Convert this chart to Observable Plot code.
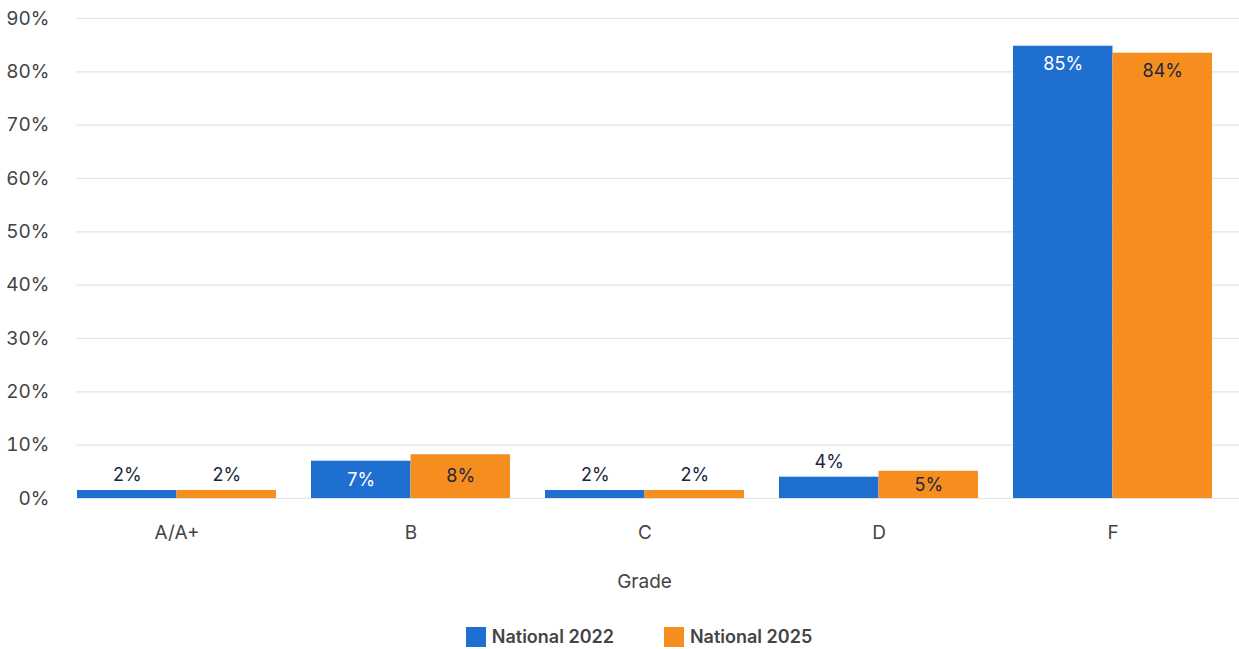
<!DOCTYPE html>
<html>
<head>
<meta charset="utf-8">
<script src="https://cdn.jsdelivr.net/npm/d3@7"></script>
<script src="https://cdn.jsdelivr.net/npm/@observablehq/plot@0.6"></script>
<style>
  html, body { margin: 0; padding: 0; background: #fff; }
  body { width: 1239px; height: 649px; overflow: hidden; font-family: Inter, "Noto Sans", sans-serif; }
  #legend { display: flex; justify-content: center; gap: 50px; margin-top: 16px; padding-left: 39px; }
  .item { display: flex; align-items: center; font-weight: 600; font-size: 18px; color: #444; }
  .sw { width: 20px; height: 20px; margin-right: 6px; }
</style>
</head>
<body>
<div id="chart"></div>
<div id="legend"></div>
<script>
const grades = ["A/A+", "B", "C", "D", "F"];
const series = ["National 2022", "National 2025"];
const national2022 = [1.5, 7.0, 1.5, 4.0, 84.8];
const national2025 = [1.5, 8.2, 1.5, 5.1, 83.5];
const yTicks = [0, 10, 20, 30, 40, 50, 60, 70, 80, 90];
const colors = ["#1f6fd1", "#f68e1f"];

const W = 1239, H = 610, ML = 76, MR = 27, MT = 18, MB = 112;
const padInner = 0.15;
const step = (W - ML - MR) / (grades.length - padInner);
const bw = step * (1 - padInner);
const half = bw / 2;

const rows2022 = grades.map((g, i) => ({grade: g, value: national2022[i], series: series[0]}));
const rows2025 = grades.map((g, i) => ({grade: g, value: national2025[i], series: series[1]}));

function labelMarks(rows, dx, insideFill) {
  const big = rows.filter(d => d.value > 10);
  const mid = rows.filter(d => d.value >= 5 && d.value <= 10);
  const small = rows.filter(d => d.value < 5);
  const fmt = d => Math.round(d.value) + "%";
  const common = {x: "grade", text: fmt, dx, fontSize: 18, fontFamily: "Inter"};
  return [
    Plot.text(big, {...common, y: "value", dy: 18, fill: insideFill}),
    Plot.text(mid, {...common, y: d => d.value / 2, fill: insideFill}),
    Plot.text(small, {...common, y: "value", dy: -15, fill: "#1b2640"})
  ];
}

const chart = Plot.plot({
  width: W, height: H,
  marginLeft: ML, marginRight: MR, marginTop: MT, marginBottom: MB,
  style: {fontFamily: "Inter, sans-serif", fontSize: "19px", color: "#444", background: "#fff"},
  x: {domain: grades, paddingInner: padInner, paddingOuter: 0, label: "Grade", labelAnchor: "center", labelOffset: 89, tickSize: 0, tickPadding: 27},
  y: {domain: [0, 90], ticks: yTicks, tickFormat: d => d + "%", tickSize: 0, tickPadding: 27, label: null},
  marks: [
    Plot.ruleY(yTicks, {stroke: "#e3e3e3", strokeWidth: 1.2, insetRight: -MR}),
    Plot.barY(rows2022, {x: "grade", y: "value", fill: colors[0], insetRight: half}),
    Plot.barY(rows2025, {x: "grade", y: "value", fill: colors[1], insetLeft: half}),
    ...labelMarks(rows2022, -half / 2, "#ffffff"),
    ...labelMarks(rows2025, half / 2, "#1b2640")
  ]
});
document.getElementById("chart").appendChild(chart);

const legend = document.getElementById("legend");
series.forEach((s, i) => {
  const item = document.createElement("div");
  item.className = "item";
  const sw = document.createElement("span");
  sw.className = "sw";
  sw.style.background = colors[i];
  item.appendChild(sw);
  item.appendChild(document.createTextNode(s));
  legend.appendChild(item);
});
</script>
</body>
</html>
